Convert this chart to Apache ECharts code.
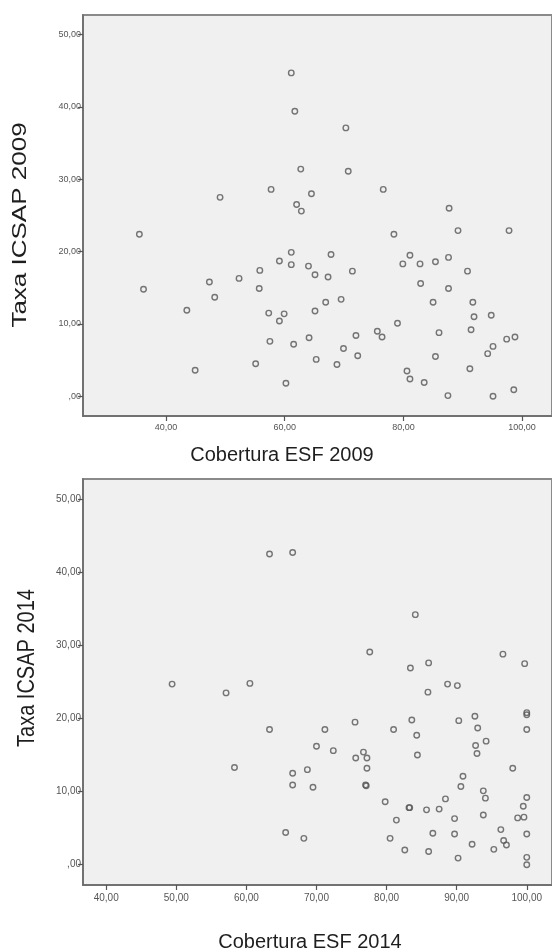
<!DOCTYPE html>
<html>
<head>
<meta charset="utf-8">
<script src="https://cdn.jsdelivr.net/npm/echarts@6/dist/echarts.min.js"></script>
<style>
html,body{margin:0;padding:0;background:#fff;}
#c{width:552px;height:952px;}
</style>
</head>
<body>
<div id="c"></div>
<script>
// Cobertura ESF 2009 (x) vs Taxa ICSAP 2009 (y)
var x2009 = [61.1,61.7,49.1,57.7,62.0,70.3,62.7,70.7,64.5,76.6,62.8,87.7,35.5,36.2,43.5,44.9,47.3,48.2,52.3,55.8,55.7,55.1,57.3,57.5,59.1,59.1,59.9,60.2,61.1,61.1,61.5,78.4,89.2,97.8,67.8,64.0,65.1,67.3,71.4,79.9,81.1,82.8,85.4,87.6,90.8,82.9,87.6,85.0,91.7,91.9,94.8,91.4,65.1,66.9,69.5,64.1,72.0,75.6,76.4,79.0,86.0,69.9,65.3,72.3,68.8,85.4,97.4,98.8,95.1,94.2,91.2,80.6,81.1,83.5,87.5,95.1,98.6];
var y2009 = [44.7,39.4,27.5,28.6,26.5,37.1,31.4,31.1,28.0,28.6,25.6,26.0,22.4,14.8,11.9,3.6,15.8,13.7,16.3,17.4,14.9,4.5,11.5,7.6,18.7,10.4,11.4,1.8,19.9,18.2,7.2,22.4,22.9,22.9,19.6,18.0,16.8,16.5,17.3,18.3,19.5,18.3,18.6,19.2,17.3,15.6,14.9,13.0,13.0,11.0,11.2,9.2,11.8,13.0,13.4,8.1,8.4,9.0,8.2,10.1,8.8,6.6,5.1,5.6,4.4,5.5,7.9,8.2,6.9,5.9,3.8,3.5,2.4,1.9,0.1,0.0,0.9];
// Cobertura ESF 2014 (x) vs Taxa ICSAP 2014 (y)
var x2014 = [63.3,66.6,49.4,57.1,60.5,84.1,77.6,83.4,86.0,96.6,99.7,88.7,90.1,85.9,63.3,58.3,66.6,66.6,65.6,75.5,71.2,70.0,72.4,68.7,69.5,68.2,75.6,76.7,77.2,77.2,77.0,77.1,79.8,81.0,83.6,84.3,84.4,83.2,83.3,81.4,80.5,82.6,85.7,87.5,88.4,86.6,86.0,90.3,90.9,90.6,89.7,89.7,90.2,92.6,93.0,92.7,92.9,94.2,93.8,94.1,93.8,92.2,95.3,96.3,96.7,97.1,98.0,98.7,99.6,99.5,100.0,100.0,100.0,100.0,100.0,100.0,100.0];
var y2014 = [42.5,42.7,24.7,23.5,24.8,34.2,29.1,26.9,27.6,28.8,27.5,24.7,24.5,23.6,18.5,13.3,12.5,10.9,4.4,19.5,18.5,16.2,15.6,13.0,10.6,3.6,14.6,15.4,14.6,13.2,10.9,10.8,8.6,18.5,19.8,17.7,15.0,7.8,7.8,6.1,3.6,2.0,7.5,7.6,9.0,4.3,1.8,19.7,12.1,10.7,6.3,4.2,0.9,20.3,18.7,16.3,15.2,16.9,10.1,9.1,6.8,2.8,2.1,4.8,3.3,2.7,13.2,6.4,6.5,8.0,9.2,4.2,1.0,0.0,20.8,20.5,18.5];
var yTicks = [0,10,20,30,40,50];
var xTicks2009 = [40,60,80,100];
var xTicks2014 = [40,50,60,70,80,90,100];
var xTitle2009 = 'Cobertura ESF 2009', yTitle2009 = 'Taxa ICSAP 2009';
var xTitle2014 = 'Cobertura ESF 2014', yTitle2014 = 'Taxa ICSAP 2014';

function pairs(xs, ys){ var o=[]; for (var i=0;i<xs.length;i++) o.push([xs[i], ys[i]]); return o; }
function fmt(v){ var s = Number(v).toFixed(2).replace('.', ','); return s.indexOf('0,')===0 ? s.slice(1) : s; }

var FONT = '"Liberation Sans", Arial, sans-serif';
var axisColor = '#6a6a6a';
function xAxisCfg(idx, min, max, ticks, fs, margin){
  return {type:'value', gridIndex:idx, min:min, max:max,
    splitLine:{show:false},
    axisLine:{show:true, onZero:false, lineStyle:{color:axisColor, width:1.5}},
    axisTick:{show:true, length:5, customValues:ticks, lineStyle:{color:'#555', width:1.2}},
    axisLabel:{customValues:ticks, formatter:fmt, color:'#555', fontSize:fs, fontFamily:FONT, margin:margin}};
}
function yAxisCfg(idx, min, max, fs){
  return {type:'value', gridIndex:idx, min:min, max:max,
    splitLine:{show:false},
    axisLine:{show:true, onZero:false, lineStyle:{color:axisColor, width:1.5}},
    axisTick:{show:true, length:5, customValues:yTicks, lineStyle:{color:'#555', width:1.2}},
    axisLabel:{customValues:yTicks, formatter:fmt, color:'#555', fontSize:fs, fontFamily:FONT, margin:2}};
}
var sym = {symbol:'circle', symbolSize:5.5, itemStyle:{color:'rgba(0,0,0,0)', borderColor:'#555', borderWidth:1.4}};

var chart = echarts.init(document.getElementById('c'), null, {renderer:'canvas'});
chart.setOption({
  animation:false,
  backgroundColor:'#ffffff',
  grid:[
    {left:83, right:-10, top:15, bottom:536, show:true, backgroundColor:'#f0f0f0', borderColor:'#8a8a8a', borderWidth:2},
    {left:83, right:-10, top:479, bottom:67, show:true, backgroundColor:'#f0f0f0', borderColor:'#8a8a8a', borderWidth:2}
  ],
  xAxis:[ xAxisCfg(0, 26.0, 105.04, xTicks2009, 9, 7), xAxisCfg(1, 36.69, 103.6, xTicks2014, 10, 8) ],
  yAxis:[ yAxisCfg(0, -2.72, 52.7, 9), yAxisCfg(1, -2.78, 52.76, 10) ],
  series:[
    Object.assign({type:'scatter', xAxisIndex:0, yAxisIndex:0, data:pairs(x2009, y2009)}, sym),
    Object.assign({type:'scatter', xAxisIndex:1, yAxisIndex:1, data:pairs(x2014, y2014)}, sym)
  ],
  graphic:[
    {type:'text', x:282, y:455, style:{text:xTitle2009, font:'20px '+FONT, fill:'#1e1e1e', align:'center', verticalAlign:'middle'}},
    {type:'text', x:20, y:225, rotation:Math.PI/2, scaleX:1.3, style:{text:yTitle2009, font:'20px '+FONT, fill:'#1e1e1e', align:'center', verticalAlign:'middle'}},
    {type:'text', x:310, y:942, style:{text:xTitle2014, font:'20px '+FONT, fill:'#1e1e1e', align:'center', verticalAlign:'middle'}},
    {type:'text', x:28, y:668, rotation:Math.PI/2, scaleY:1.15, style:{text:yTitle2014, font:'20px '+FONT, fill:'#1e1e1e', align:'center', verticalAlign:'middle'}}
  ]
});
</script>
</body>
</html>
